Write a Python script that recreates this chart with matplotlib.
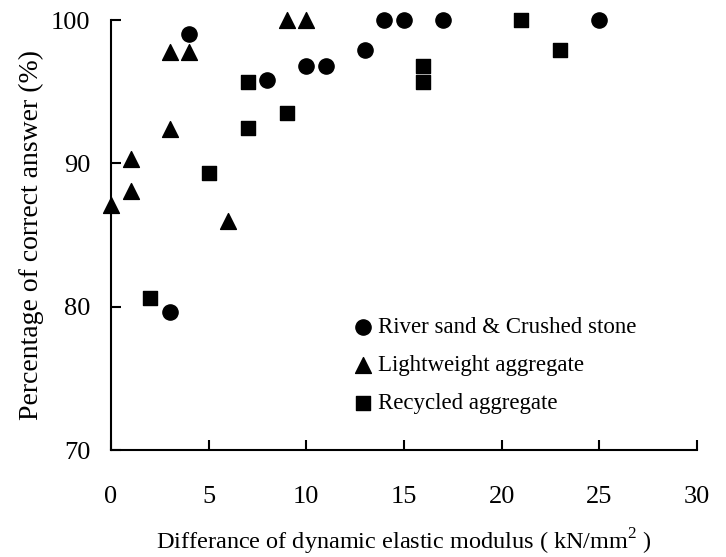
import matplotlib
matplotlib.use("Agg")
import matplotlib.pyplot as plt

plt.rcParams['font.family'] = ['Liberation Serif', 'DejaVu Serif']
plt.rcParams['mathtext.fontset'] = 'custom'
plt.rcParams['mathtext.rm'] = 'Liberation Serif'

# River sand & Crushed stone
river_x = [3, 4, 8, 10, 11, 13, 14, 15, 17, 25]
river_y = [79.6, 99.0, 95.8, 96.8, 96.8, 97.9, 100, 100, 100, 100]

# Lightweight aggregate
light_x = [0, 1, 1, 3, 3, 4, 6, 9, 10]
light_y = [87.1, 88.1, 90.3, 92.4, 97.8, 97.8, 86.0, 100, 100]

# Recycled aggregate
recyc_x = [2, 5, 7, 7, 9, 16, 16, 21, 23]
recyc_y = [80.6, 89.3, 95.7, 92.5, 93.5, 96.8, 95.7, 100, 97.9]

labels = ["River sand & Crushed stone", "Lightweight aggregate", "Recycled aggregate"]

fig = plt.figure(figsize=(7.26, 5.57), dpi=100)
ax = fig.add_axes([0.1529, 0.192, 0.807, 0.772])

ax.scatter(river_x, river_y, marker='o', s=120, color='black', label=labels[0], clip_on=False, zorder=3)
ax.scatter(light_x, light_y, marker='^', s=130, color='black', label=labels[1], clip_on=False, zorder=3)
ax.scatter(recyc_x, recyc_y, marker='s', s=115, color='black', label=labels[2], clip_on=False, zorder=3)

ax.set_xlim(0, 30)
ax.set_ylim(70, 100)
ax.set_xticks([0, 5, 10, 15, 20, 25, 30])
ax.set_yticks([70, 80, 90, 100])

for s in ['top', 'right']:
    ax.spines[s].set_visible(False)
for s in ['left', 'bottom']:
    ax.spines[s].set_linewidth(1.5)

ax.tick_params(axis='x', direction='in', length=7, width=1.5, pad=26, labelsize=19)
ax.tick_params(axis='y', direction='in', length=7, width=1.5, pad=15, labelsize=19)

ax.set_xlabel("Differance of dynamic elastic modulus ( kN/mm$^2$ )", fontsize=17.5, labelpad=13)
ax.set_ylabel("Percentage of correct answer (%)", fontsize=20, labelpad=5)

ax.legend(loc='upper left', bbox_to_anchor=(0.416, 0.31), frameon=False, fontsize=16.5,
          handlelength=0.7, handletextpad=0.3, labelspacing=0.75, borderpad=0,
          borderaxespad=0, scatterpoints=1)

fig.savefig("out.png", dpi=100)
